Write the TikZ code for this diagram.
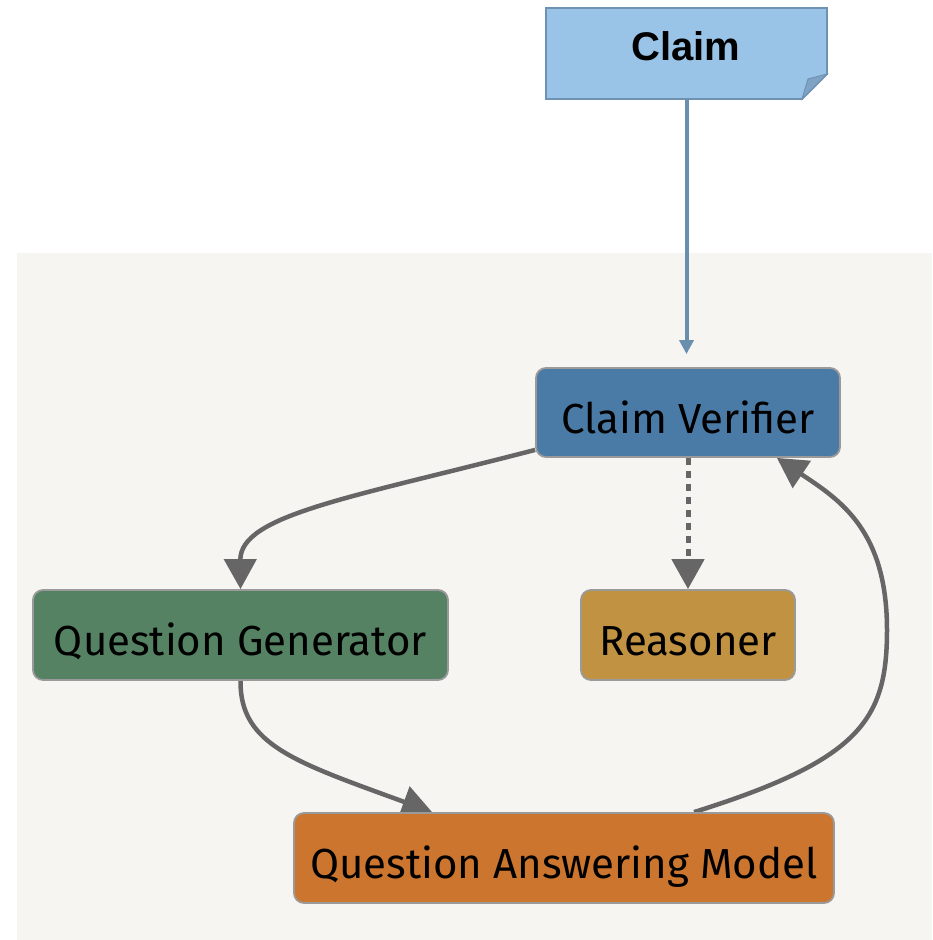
\documentclass[tikz,border=0pt]{standalone}
\usepackage{fontspec}
\setmainfont{Fira Sans}
\newfontfamily\claimfont{Liberation Sans}
\usetikzlibrary{arrows.meta,calc,backgrounds}
\definecolor{panelbg}{HTML}{F6F5F2}
\definecolor{claimfill}{HTML}{99C4E8}
\definecolor{claimline}{HTML}{6F91B2}
\definecolor{claimfold}{HTML}{7FA3C5}
\definecolor{cvfill}{HTML}{4A7BA7}
\definecolor{qgfill}{HTML}{548263}
\definecolor{rsfill}{HTML}{C29243}
\definecolor{qafill}{HTML}{CC752E}
\definecolor{boxline}{HTML}{9A9A9A}
\definecolor{edgegray}{HTML}{666666}
\definecolor{claimarrowc}{HTML}{6A8EAE}
\pgfdeclarelayer{panel}
\pgfdeclarelayer{edges}
\pgfsetlayers{panel,edges,main}
\tikzset{
  procbox/.style={draw=boxline, line width=1.8pt, rounded corners=10pt, inner sep=0pt},
  boxtext/.style={font=\fontsize{42}{42}\selectfont, text=black, text height=29pt, text depth=0pt, inner sep=0pt, yshift=-6pt},
  flow/.style={draw=edgegray, line width=4.5pt, -{Triangle[length=30pt,width=32pt]}},
  dotflow/.style={draw=edgegray, line width=5pt, dash pattern=on 7pt off 6pt, -{Triangle[length=30pt,width=32pt]}},
  claimflow/.style={draw=claimarrowc, line width=4pt, -{Triangle[length=14pt,width=14pt]}, shorten >=13pt}
}
\begin{document}
\begin{tikzpicture}[x=1pt,y=-1pt]
\useasboundingbox (0,0) rectangle (932,940);
\begin{pgfonlayer}{panel}
\fill[white] (0,0) rectangle (932,940);
\fill[panelbg] (17,253) rectangle (932,940);
\end{pgfonlayer}
% Claim note shape
\filldraw[fill=claimfill, draw=claimline, line width=1.8pt, line join=miter]
  (546,8) -- (827,8) -- (827,74) -- (802,99) -- (546,99) -- cycle;
\filldraw[fill=claimfold, draw=claimline, line width=1pt]
  (827,74) -- (808,79) -- (802,99) -- cycle;
\node (claim) [minimum width=281pt, minimum height=91pt, inner sep=0pt] at (686.5,53.5) {};
\node (claimtxt) [font=\claimfont\bfseries\fontsize{40}{40}\selectfont, text height=28.6pt, text depth=0pt, inner sep=0pt] at (686,46) {Claim};
% process boxes
\node (cv) [procbox, fill=cvfill, minimum width=304pt, minimum height=89pt,
  label={[boxtext]center:Claim Verifier}] at (688,412.5) {};
\node (qg) [procbox, fill=qgfill, minimum width=415pt, minimum height=90pt,
  label={[boxtext]center:Question Generator}] at (240.5,635) {};
\node (rs) [procbox, fill=rsfill, minimum width=214pt, minimum height=90pt,
  label={[boxtext]center:Reasoner}] at (688,635) {};
\node (qa) [procbox, fill=qafill, minimum width=540pt, minimum height=90pt,
  label={[boxtext]center:Question Answering Model}] at (564,858) {};
% connectors
\begin{pgfonlayer}{edges}
\draw[claimflow] (claim.south) -- (claim.south |- cv.north);
\draw[flow] ($(cv.south west)+(0,-8)$) .. controls (350,498) and (240,515) .. (qg.north);
\draw[dotflow] (cv.south) -- (rs.north);
\draw[flow] (qg.south) .. controls (240,745) and (295,762) .. ($(qa.north west)+(139,0)$);
\draw[flow] ($(qa.north west)+(401,0)$) .. controls (860,760) and (887,720) .. (887,630)
  .. controls (887,530) and (840,500) .. ($(cv.south east)+(-64,0)$);
\end{pgfonlayer}
\end{tikzpicture}
\end{document}
